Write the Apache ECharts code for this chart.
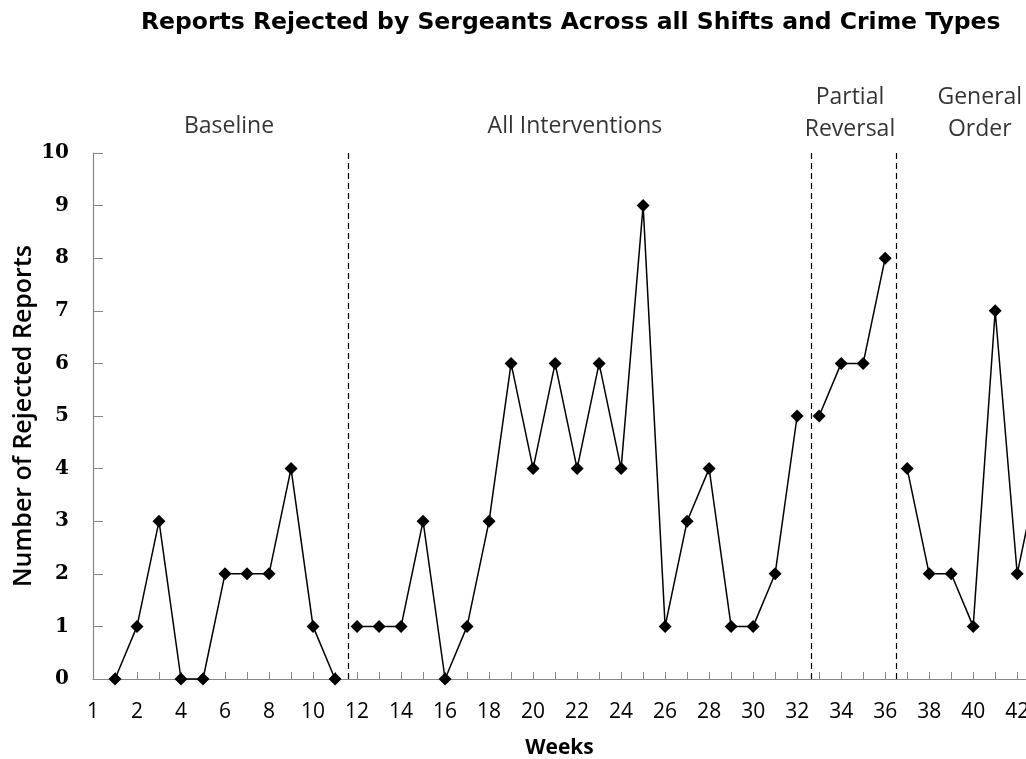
<!DOCTYPE html>
<html>
<head>
<meta charset="utf-8">
<script src="https://cdn.jsdelivr.net/npm/echarts@6/dist/echarts.min.js"></script>
<style>
  html, body { margin: 0; padding: 0; background: #fff; }
  #chart { width: 1026px; height: 759px; }
</style>
</head>
<body>
<div id="chart"></div>
<script>
// ---- data ----
const titleText = 'Reports Rejected by Sergeants Across all Shifts and Crime Types';
const xAxisTitle = 'Weeks';
const yAxisTitle = 'Number of Rejected Reports';

// rejected reports per week, by phase
const baselineStart = 1;
const baseline = [0, 1, 3, 0, 0, 2, 2, 2, 4, 1, 0];
const interventionsStart = 12;
const interventions = [1, 1, 1, 3, 0, 1, 3, 6, 4, 6, 4, 6, 4, 9, 1, 3, 4, 1, 1, 2, 5];
const partialStart = 33;
const partialReversal = [5, 6, 6, 8];
const generalStart = 37;
const generalOrder = [4, 2, 2, 1, 7, 2, 4];

// phase boundaries (weeks) and phase names
const phaseBoundaries = [11.6, 32.65, 36.5];
const phaseNames = ['Baseline', 'All Interventions', 'Partial\nReversal', 'General\nOrder'];
const phaseNameWeek = [6.18, 21.9, 34.4, 40.3];
const phaseNameLevel = [10.51, 10.51, 10.76, 10.76];

// visible week range (chart is cut off at the right edge)
const weekMin = 0;
const weekMax = 42.4;

// x tick labels: first tick shows "1", then even weeks
const xTickLabel = function (v) {
  if (v !== Math.round(v)) return '';
  return v === 0 ? '1' : String(v);
};

// ---- chart ----
function toPairs(start, arr) {
  return arr.map(function (v, i) { return [start + i, v]; });
}

const lineStyleCommon = { color: '#000', width: 1.5 };
function phaseSeries(name, start, arr) {
  return {
    name: name,
    type: 'line',
    data: toPairs(start, arr),
    symbol: 'diamond',
    symbolSize: 13,
    itemStyle: { color: '#000' },
    lineStyle: lineStyleCommon,
    clip: false,
    z: 3
  };
}

const series = [
  phaseSeries('Baseline', baselineStart, baseline),
  phaseSeries('All Interventions', interventionsStart, interventions),
  phaseSeries('Partial Reversal', partialStart, partialReversal),
  phaseSeries('General Order', generalStart, generalOrder)
];

series[0].markLine = {
  silent: true,
  symbol: ['none', 'none'],
  label: { show: false },
  lineStyle: { color: '#000', type: [6, 4], width: 1.2 },
  data: phaseBoundaries.map(function (w) { return { xAxis: w }; })
};

series.push({
  type: 'scatter',
  data: phaseNames.map(function (n, i) { return { value: [phaseNameWeek[i], phaseNameLevel[i]], name: n }; }),
  symbolSize: 0,
  clip: false,
  silent: true,
  label: {
    show: true,
    position: 'inside',
    formatter: function (p) { return p.name; },
    fontFamily: 'Open Sans',
    fontSize: 23,
    lineHeight: 32,
    color: '#000',
    align: 'center',
    verticalAlign: 'middle'
  }
});

const chart = echarts.init(document.getElementById('chart'), null, { renderer: 'canvas' });
chart.setOption({
  animation: false,
  backgroundColor: '#fff',
  title: {
    text: titleText,
    left: 136,
    top: 6,
    textStyle: { fontFamily: 'DejaVu Sans', fontWeight: 'bold', fontSize: 23.5, color: '#000' }
  },
  grid: { left: 93, top: 153, right: 0, height: 526, outerBoundsMode: 'none', containLabel: false },
  xAxis: {
    type: 'value',
    min: weekMin,
    max: weekMax,
    interval: 2,
    name: xAxisTitle,
    nameLocation: 'middle',
    nameGap: 59,
    nameMoveOverlap: false,
    nameTextStyle: { fontFamily: 'Open Sans', fontWeight: 'bold', fontSize: 21, color: '#000' },
    axisLine: { show: true, lineStyle: { color: '#868686', width: 1.2 } },
    axisTick: { show: true, inside: true, length: 7, lineStyle: { color: '#868686' } },
    minorTick: { show: true, splitNumber: 2, length: 7, lineStyle: { color: '#868686' } },
    axisLabel: { formatter: xTickLabel, showMaxLabel: false, margin: 23, fontFamily: 'Open Sans', fontSize: 21, color: '#000' },
    splitLine: { show: false }
  },
  yAxis: {
    type: 'value',
    min: 0,
    max: 10,
    interval: 1,
    name: yAxisTitle,
    nameLocation: 'middle',
    nameGap: 57,
    nameMoveOverlap: false,
    nameTextStyle: { fontFamily: 'Open Sans', fontWeight: 600, fontSize: 25, color: '#000' },
    axisLine: { show: true, lineStyle: { color: '#868686', width: 1.2 } },
    axisTick: { show: true, inside: true, length: 10, lineStyle: { color: '#868686' } },
    axisLabel: { margin: 24, fontFamily: 'DejaVu Serif', fontWeight: 'bold', fontSize: 20, color: '#000' },
    splitLine: { show: false }
  },
  series: series
});
</script>
</body>
</html>
